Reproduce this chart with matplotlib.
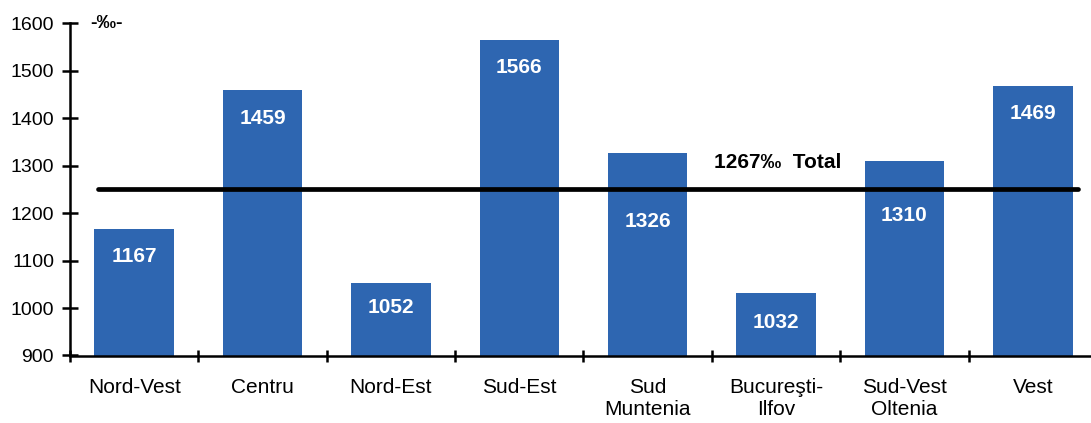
"""
Regional values vs. total, per mille.
"""

import matplotlib.pyplot as plt

plt.rcParams['font.family'] = ['Liberation Sans', 'DejaVu Sans']

regions = ['Nord-Vest', 'Centru', 'Nord-Est', 'Sud-Est', 'Sud\nMuntenia',
           'Bucureşti-\nIlfov', 'Sud-Vest\nOltenia', 'Vest']
values = [1167, 1459, 1052, 1566, 1326, 1032, 1310, 1469]
total_label = '1267‰  Total'
total_line = 1250
unit = '-‰-'

bar_color = '#2e66b1'
# pixel offsets of the value labels below each bar top
label_offsets = [-28, -28, -24, -28, -68, -30, -54, -28]

fig = plt.figure(figsize=(10.91, 4.23), dpi=100)
ax = fig.add_axes([70 / 1091, 67.5 / 423, 1027 / 1091, 332 / 423])

x = list(range(len(regions)))
ax.bar(x, values, width=0.62, color=bar_color, zorder=2)

for xi, v, off in zip(x, values, label_offsets):
    ax.annotate(str(v), (xi, v), xytext=(0, off * 0.72),
                textcoords='offset points', ha='center', va='center',
                color='white', fontsize=15, fontweight='bold')

ax.plot([-0.28, 7.35], [total_line, total_line], color='black', lw=3.4,
        solid_capstyle='round', zorder=3)
ax.text(5.01, 1306, total_label, ha='center', va='center',
        fontsize=15, fontweight='bold')

ax.text(0.02, 1600, unit, transform=ax.get_yaxis_transform(),
        ha='left', va='center', fontsize=14, fontweight='bold')

ax.set_xlim(-0.5, 7.5)
ax.set_ylim(900, 1600)
ax.set_yticks(range(900, 1601, 100))
ax.set_xticks([i + 0.5 for i in range(-1, 8)])
ax.set_xticklabels([])
ax.set_xticks(x, minor=True)
ax.set_xticklabels(regions, minor=True, fontsize=15)

for s in ['top', 'right']:
    ax.spines[s].set_visible(False)
for s in ['left', 'bottom']:
    ax.spines[s].set_linewidth(1.8)

ax.tick_params(axis='y', direction='inout', length=11, width=1.8,
               labelsize=14, pad=6)
ax.tick_params(axis='x', which='major', direction='inout', length=9,
               width=1.8)
ax.tick_params(axis='x', which='minor', length=0, pad=16)

fig.savefig('out.png', dpi=100)
